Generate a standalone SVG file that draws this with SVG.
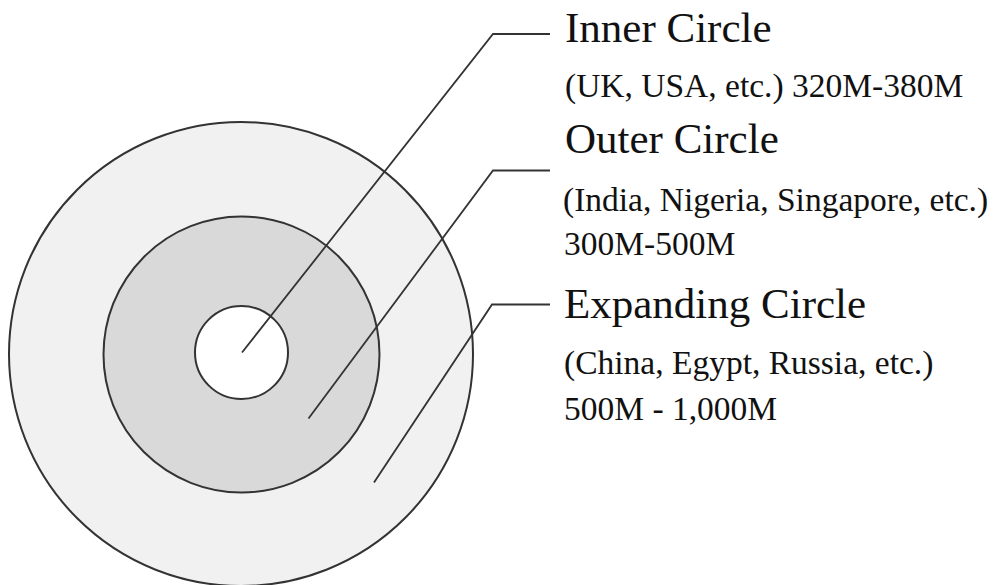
<svg xmlns="http://www.w3.org/2000/svg" width="994" height="585" viewBox="0 0 994 585">
<style>
.ring{stroke:#333;stroke-width:2}
.conn{fill:none;stroke:#333;stroke-width:1.8}
.t{font-family:"Liberation Serif","Times New Roman",serif;fill:#111}
.h{font-size:43px}
.s{font-size:33.5px}
</style>
<rect width="994" height="585" fill="#fff"/>
<g id="expanding-circle"><circle class="ring" cx="241" cy="354" r="232" fill="#f1f1f1"/></g>
<g id="outer-circle"><circle class="ring" cx="241.5" cy="354.5" r="138" fill="#d9d9d9"/></g>
<g id="inner-circle"><circle class="ring" cx="241.5" cy="352.5" r="46.5" fill="#fff"/></g>
<g id="connectors">
<polyline class="conn" points="242,352.5 493,34 550,34"/>
<polyline class="conn" points="308.5,418.5 493,170.5 550,170.5"/>
<polyline class="conn" points="374,482.5 492,304.5 550,304.5"/>
</g>
<g id="label-inner">
<text class="t h" x="565" y="42">Inner Circle</text>
<text class="t s" x="565" y="97">(UK, USA, etc.) 320M-380M</text>
</g>
<g id="label-outer">
<text class="t h" x="565" y="153">Outer Circle</text>
<text class="t s" x="563" y="211">(India, Nigeria, Singapore, etc.)</text>
<text class="t s" x="564" y="255">300M-500M</text>
</g>
<g id="label-expanding">
<text class="t h" x="564" y="318">Expanding Circle</text>
<text class="t s" x="564" y="374">(China, Egypt, Russia, etc.)</text>
<text class="t s" x="564" y="420">500M - 1,000M</text>
</g>
</svg>
